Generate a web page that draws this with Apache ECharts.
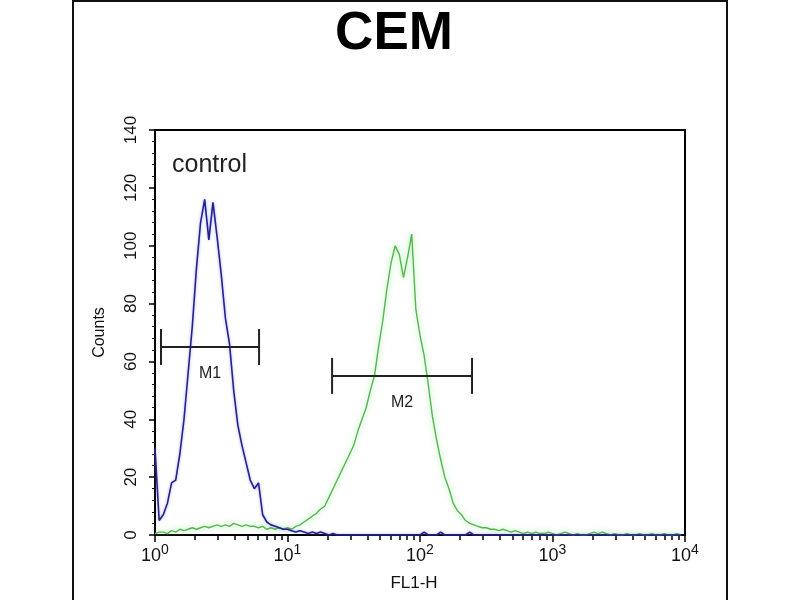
<!DOCTYPE html>
<html>
<head>
<meta charset="utf-8">
<script src="https://cdn.jsdelivr.net/npm/echarts@6/dist/echarts.min.js"></script>
<style>
  html, body { margin: 0; padding: 0; background: #fff; }
  #chart-container { width: 800px; height: 600px; }
</style>
</head>
<body>
<div id="chart-container"></div>
<script>
// histogram counts, one value per channel (32 channels per decade, 10^0 .. 10^4)
var controlCounts = [
  30, 5, 7, 11, 18, 19, 28, 40, 56, 72,
  92, 108, 116, 102, 115, 103, 90, 75, 66, 50,
  38, 31, 25, 19, 16, 18, 7, 4.5, 3.5, 3,
  2.5, 2, 2, 1.5, 1, 1.5, 1, 0.5, 1, 0.5,
  1, 0.5, 0, 0.5, 0, 0, 0, 0, 0, 0,
  0, 0, 0, 0, 0, 0, 0, 0, 0, 0,
  0, 0, 0, 0, 0, 1, 0, 0, 0, 1,
  0, 0, 0, 0, 0, 0, 1, 0, 0, 0,
  0, 0, 0, 0, 0, 0, 0, 0, 0, 0,
  0, 0, 0, 0, 0, 0, 0, 0, 0, 0,
  0, 0, 0, 0, 0, 0, 0, 0, 0, 0,
  0, 0, 0, 0, 0, 0, 0, 0, 0, 0,
  0, 0, 0, 0, 0, 0, 0, 0
];
var sampleCounts = [
  0.5, 1, 1, 0.5, 1.5, 1, 2, 1.5, 2, 2.5,
  2, 2.5, 3, 2.5, 3, 3.5, 3, 3.5, 3, 4,
  3.5, 3, 3.5, 3, 3, 2.5, 3, 2, 2.5, 2,
  2.5, 2, 2.5, 2, 3, 3.5, 4.5, 5.5, 6.5, 7.5,
  9, 10, 13, 16, 19, 22, 25, 28, 31, 36,
  40, 44, 50, 55, 65, 74, 85, 94, 100, 97,
  89, 96, 104, 78, 69, 62, 52, 41, 33, 26,
  20, 16, 11, 8.5, 7, 5, 4, 3.5, 3, 2.5,
  2.5, 2, 2, 1.5, 2, 1.5, 1, 1.5, 1, 0.5,
  1, 0.5, 1, 0.5, 0.5, 1, 0.5, 0, 0.5, 1,
  0.5, 0, 0.5, 0, 0, 0.5, 1, 0.5, 1, 0.5,
  0, 0.5, 0, 0, 0.5, 0, 0, 0.5, 0, 0,
  0.5, 0, 0, 0.5, 0, 0, 0.5, 0
];
var channelsPerDecade = 32;

// marker gates (FL1-H from / to, level on the counts axis)
var gateNames = ['M1', 'M2'];
var gateFrom = [1.11, 21.7];
var gateTo = [6.1, 247];
var gateLevel = [65, 55];

var font = 'Liberation Sans, Arial, sans-serif';

// minor ticks at 2..9 of each decade
var minorTicks = [];
for (var d = 0; d < 4; d++) {
  for (var k = 2; k <= 9; k++) minorTicks.push(d + Math.log10(k));
}

function toPoints(counts) {
  return counts.map(function (c, i) {
    return [i / channelsPerDecade, c];
  });
}

var gateData = gateNames.map(function (n, i) {
  return [gateFrom[i], gateTo[i], gateLevel[i]];
});

var chartDom = document.getElementById('chart-container');
var myChart = echarts.init(chartDom);
var option = {
  animation: false,
  backgroundColor: '#fff',
  textStyle: { fontFamily: font },
  graphic: [
    {
      type: 'rect',
      shape: { x: 73, y: 1, width: 654, height: 640 },
      style: { fill: 'none', stroke: '#111', lineWidth: 2 },
      z: 0
    },
    {
      type: 'text',
      x: 394, y: 34,
      style: {
        text: 'CEM', fontSize: 53, fontWeight: 'bold', fontFamily: font,
        fill: '#000', align: 'center', verticalAlign: 'middle'
      }
    },
    {
      type: 'text',
      x: 172, y: 165,
      style: {
        text: 'control', fontSize: 25, fontFamily: font,
        fill: '#222', align: 'left', verticalAlign: 'middle'
      }
    }
  ],
  grid: {
    left: 155, right: 115, top: 130, bottom: 65,
    show: true, borderColor: '#000', borderWidth: 2, backgroundColor: 'transparent'
  },
  xAxis: [
    {
      type: 'value', min: 0, max: 4, interval: 1,
      name: 'FL1-H', nameLocation: 'middle', nameGap: 40,
      nameTextStyle: { fontSize: 17, color: '#111', fontFamily: font, padding: [0, 12, 0, 0] },
      axisLine: { lineStyle: { color: '#000', width: 2 } },
      axisTick: { show: true, length: 7, lineStyle: { color: '#000', width: 1.5 } },
      splitLine: { show: false },
      axisLabel: {
        margin: 8,
        formatter: function (v) { return '{b|10}{s|' + v + '}'; },
        rich: {
          b: { fontSize: 18, color: '#111', fontFamily: font, verticalAlign: 'bottom', lineHeight: 22 },
          s: { fontSize: 14, color: '#111', fontFamily: font, verticalAlign: 'top', lineHeight: 10 }
        }
      }
    },
    {
      type: 'value', min: 0, max: 4, position: 'bottom',
      axisLine: { show: false },
      axisLabel: { show: false },
      splitLine: { show: false },
      axisTick: { show: true, length: 5, customValues: minorTicks, lineStyle: { color: '#000', width: 1.5 } }
    }
  ],
  yAxis: {
    type: 'value', min: 0, max: 140, interval: 20,
    name: 'Counts', nameLocation: 'middle', nameGap: 47,
    nameTextStyle: { fontSize: 16, color: '#111', fontFamily: font, padding: [0, 0, 0, 0] },
    axisLine: { show: true, lineStyle: { color: '#000', width: 2 } },
    axisTick: { show: true, length: 6, lineStyle: { color: '#000', width: 1.5 } },
    minorTick: { show: true, splitNumber: 5, length: 3, lineStyle: { color: '#000' } },
    splitLine: { show: false },
    axisLabel: { rotate: 90, fontSize: 17, color: '#111', margin: 15, fontFamily: font }
  },
  series: [
    {
      name: 'sample', type: 'line', data: toPoints(sampleCounts),
      showSymbol: false, z: 2,
      lineStyle: {
        color: '#52b84e', width: 1.4,
        shadowColor: 'rgba(140,235,140,0.9)', shadowBlur: 6
      }
    },
    {
      name: 'control', type: 'line', data: toPoints(controlCounts),
      showSymbol: false, z: 3,
      lineStyle: {
        color: '#23238a', width: 1.6,
        shadowColor: 'rgba(110,110,255,0.6)', shadowBlur: 3
      }
    },
    {
      name: 'gates', type: 'custom', data: gateData, z: 4,
      renderItem: function (params, api) {
        var level = api.value(2);
        var a = api.coord([Math.log10(api.value(0)), level]);
        var b = api.coord([Math.log10(api.value(1)), level]);
        var cap = 18;
        var st = { stroke: '#222', lineWidth: 2 };
        return {
          type: 'group',
          children: [
            { type: 'line', shape: { x1: a[0], y1: a[1], x2: b[0], y2: b[1] }, style: st },
            { type: 'line', shape: { x1: a[0], y1: a[1] - cap, x2: a[0], y2: a[1] + cap }, style: st },
            { type: 'line', shape: { x1: b[0], y1: b[1] - cap, x2: b[0], y2: b[1] + cap }, style: st },
            {
              type: 'text', x: (a[0] + b[0]) / 2, y: a[1] + 27,
              style: {
                text: gateNames[params.dataIndex], fontSize: 16, fontFamily: font,
                fill: '#222', align: 'center', verticalAlign: 'middle'
              }
            }
          ]
        };
      }
    }
  ]
};
option && myChart.setOption(option);
</script>
</body>
</html>
